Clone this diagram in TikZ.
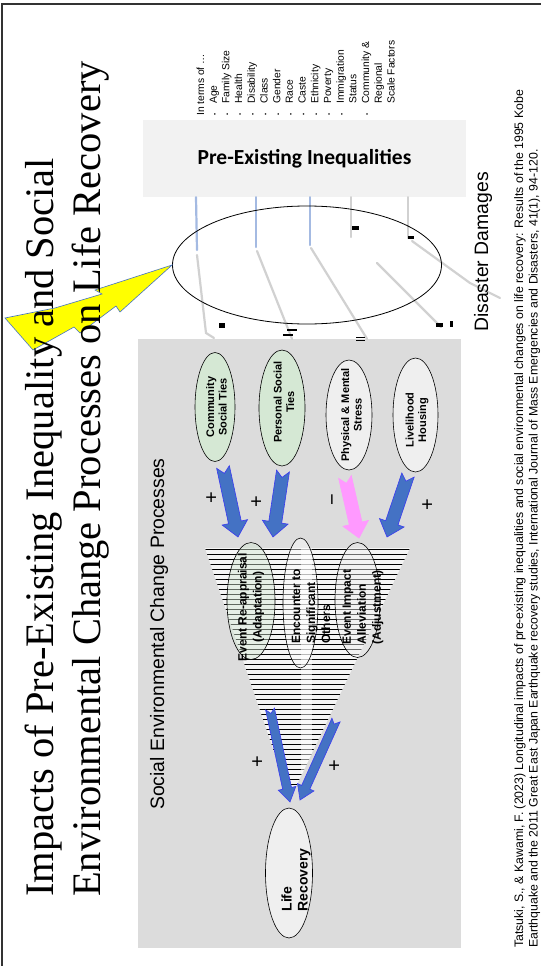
\documentclass[tikz,border=0pt]{standalone}
\usepackage{fontspec}
\setmainfont{Liberation Serif}
\setsansfont{Liberation Sans}
\newfontfamily\headfont{Carlito}
\usetikzlibrary{shapes.geometric,positioning,calc}

\definecolor{boxgray}{HTML}{F2F2F2}
\definecolor{procgray}{HTML}{DCDCDC}
\definecolor{tiegreen}{HTML}{D5E8D4}
\definecolor{ovalgray}{HTML}{EFEFEF}
\definecolor{arrowblue}{HTML}{4472C4}
\definecolor{edgeblue}{HTML}{3A3AF0}
\definecolor{stresspink}{HTML}{FF99FF}
\definecolor{boltyellow}{HTML}{FFFF00}
\definecolor{traceblue}{HTML}{8EA9DB}

\newcommand{\itemdot}{{\fontsize{6}{6}\selectfont\textbullet}}
% wide block arrow with notched tail: style, from, to, half shaft, half head, head length
\newcommand{\fatarrow}[6]{%
  \coordinate (fa-base) at ($(#3)!#6!(#2)$);
  \filldraw[#1] ($(#2)!#4!90:(#3)$) -- ($(fa-base)!#4!90:(#3)$) -- ($(fa-base)!#5!90:(#3)$) -- (#3)
    -- ($(fa-base)!#5!-90:(#3)$) -- ($(fa-base)!#4!-90:(#3)$) -- ($(#2)!#4!-90:(#3)$) -- ($(#2)!#4!(#3)$) -- cycle;}

\begin{document}
\begin{tikzpicture}[x=1pt, y=-1pt,
  frame/.style={line width=1.3pt, draw=black!80},
  title/.style={rotate=90, inner sep=0pt, font=\rmfamily\fontsize{40.5}{47}\selectfont},
  sidehead/.style={rotate=90, inner sep=0pt, font=\sffamily\fontsize{19.4}{22}\selectfont},
  cite/.style={rotate=90, inner sep=0pt, font=\sffamily\fontsize{12.3}{14}\selectfont},
  oval/.style={draw, ellipse, inner sep=0pt, line width=0.6pt},
  vtext/.style={rotate=90, inner sep=0pt, text opacity=1, align=center, font=\sffamily\bfseries\fontsize{11}{12.5}\selectfont},
  btext/.style={vtext, font=\sffamily\bfseries\fontsize{12}{15}\selectfont},
  sign/.style={rotate=90, inner sep=0pt, font=\sffamily\fontsize{20}{20}\selectfont},
  trace/.style={line width=2.2pt, line cap=round, draw=gray!45, opacity=0.8},
  bluetrace/.style={trace, draw=traceblue},
  blot/.style={fill=black},
  stripe/.style={line width=1pt, draw=black},
  bluearrow/.style={fill=arrowblue, draw=edgeblue, line width=0.6pt},
  pinkarrow/.style={fill=stresspink, draw=stresspink, line width=0.6pt}
]
\useasboundingbox (0,0) rectangle (541,966);
\fill[white] (0,0) rectangle (541,966);

% slide frame
\draw[frame] (2,966) -- (2,4) -- (541,4);

% inequalities and process areas
\node[fill=boxgray, minimum width=323pt, minimum height=77pt, inner sep=0pt,
  font=\headfont\bfseries\fontsize{21.5}{24}\selectfont] (ineq) at (304.5,158.5) {Pre-Existing Inequalities};
\node[fill=procgray, minimum width=323pt, minimum height=609pt, inner sep=0pt] (proc) at (299.5,643.5) {};

% traces from the inequalities
\draw[bluetrace] (196,0 |- ineq.south) -- (197,250);
\draw[trace] (197,255) -- (206,333) -- (214,338);
\draw[bluetrace] (256,0 |- ineq.south) -- (256,247);
\draw[trace] (257,251) -- (292,0 |- proc.north);
\draw[bluetrace] (310,0 |- ineq.south) -- (310,245);
\draw[trace] (311,248) -- (367,0 |- proc.north);
\draw[trace] (351,0 |- ineq.south) -- (351,237);
\draw[trace] (377,263) -- (441,327);
\draw[trace] (408,0 |- ineq.south) -- (408,238);
\draw[trace] (412,241) -- (470,283) -- (500,298);
\fill[blot] (219,323) rectangle (225,328);
\fill[blot] (352,226) rectangle (359,230);
\fill[blot] (408,236) rectangle (414,239);
\fill[blot] (436,323) rectangle (443,327);
\fill[blot] (450,321) rectangle (453,327);
\fill[blot] (283,334) rectangle (293,335.5);
\fill[blot] (287,329) rectangle (297,330.5);
\fill[blot] (356,337) rectangle (365,338.2);
\fill[blot] (356,340) rectangle (365,341.2);

% disaster damage zone and bolt
\node[draw, ellipse, minimum width=269pt, minimum height=118pt, inner sep=0pt, line width=0.8pt] (dmgzone) at (307,265) {};
\filldraw[fill=boltyellow, draw=arrowblue, line width=0.6pt] (dmgzone.west) -- (95,290) -- (102,294) -- (55,308)
  -- (5,318) -- (33,350) -- (74,327) -- (80,333) -- (116,306) -- (120,312) -- cycle;

% titles and side texts
\node[title, anchor=base west] (title1) at (53,897) {Impacts of Pre-Existing Inequality and Social};
\node[title, anchor=base west] (title2) at (100,897) {Environmental Change Processes on Life Recovery};
\node[rotate=90, anchor=north west, inner sep=0pt, font=\sffamily\fontsize{10.3}{12.7}\selectfont] (factors) at (195,116) {%
  \begin{tabular}{@{}l@{\hspace{10pt}}l@{}}
  \multicolumn{2}{@{}l@{}}{In terms of …}\\
  \itemdot & Age\\
  \itemdot & Family Size\\
  \itemdot & Health\\
  \itemdot & Disability\\
  \itemdot & Class\\
  \itemdot & Gender\\
  \itemdot & Race\\
  \itemdot & Caste\\
  \itemdot & Ethnicity\\
  \itemdot & Poverty\\
  \itemdot & Immigration\\
           & Status\\
  \itemdot & Community \&\\
           & Regional\\
           & Scale Factors
  \end{tabular}};
\node[sidehead, anchor=base west] (damages) at (488,332) {Disaster Damages};
\node[sidehead, anchor=base west] (proclabel) at (164,810) {Social Environmental Change Processes};
\node[cite, anchor=base west] (cite1) at (523,948) {Tatsuki, S., \& Kawami, F. (2023) Longitudinal impacts of pre-existing inequalities and social environmental changes on life recovery: Results of the 1995 Kobe};
\node[cite, anchor=base west] (cite2) at (537.5,948) {Earthquake and the 2011 Great East Japan Earthquake recovery studies, International Journal of Mass Emergencies and Disasters, 41(1), 94-120.};

% change processes
\node[oval, fill=tiegreen, minimum width=40pt, minimum height=109pt,
  label={[xshift=1.5pt, vtext]center:{Community\\Social Ties}}] (community) at (215,407) {};
\node[oval, fill=tiegreen, minimum width=46pt, minimum height=116pt,
  label={[xshift=2pt, yshift=6pt, vtext]center:{Personal Social\\Ties}}] (personal) at (282,408) {};
\node[oval, fill=ovalgray, minimum width=46pt, minimum height=110pt,
  label={[xshift=2.5pt, vtext]center:{Physical \& Mental\\Stress}}] (stress) at (349,415) {};
\node[oval, fill=ovalgray, minimum width=45pt, minimum height=114pt,
  label={[xshift=1.5pt, yshift=-5pt, vtext]center:{Livelihood\\Housing}}] (housing) at (415.5,415) {};

\coordinate (community-out) at (223,467);
\coordinate (personal-out) at (283,471);
\coordinate (stress-out) at (345,477);
\coordinate (housing-out) at (408,475);
\coordinate (reappraisal-in) at (238,537);
\coordinate (encounter-in) at (273,537);
\coordinate (stress-in) at (359,538);
\coordinate (alleviation-in) at (387,537);
\fatarrow{bluearrow}{community-out}{reappraisal-in}{6.5pt}{13pt}{15pt}
\fatarrow{bluearrow}{personal-out}{encounter-in}{6.5pt}{13pt}{15pt}
\fatarrow{pinkarrow}{stress-out}{stress-in}{6.5pt}{13pt}{15pt}
\fatarrow{bluearrow}{housing-out}{alleviation-in}{6.5pt}{13pt}{15pt}
\node[sign] (plus1) at (212,498) {+};
\node[sign] (plus2) at (257,502) {+};
\node[sign] (minus1) at (335,500) {−};
\node[sign] (plus3) at (428,505) {+};

% funnel of adaptation
\coordinate (funnel-l) at (205,548);
\coordinate (funnel-r) at (410,548);
\coordinate (funnel-tip) at (290,799);
\fill[gray!8] (funnel-l) -- (funnel-r) -- (funnel-tip) -- cycle;
\begin{scope}
  \clip (funnel-l) -- (funnel-r) -- (funnel-tip) -- cycle;
  \foreach \yy in {549,554,...,800}
    \draw[stripe] (200,\yy) -- (415,\yy);
  \fill[white, opacity=0.5] (301,548) rectangle (312,800);
\end{scope}

\node[oval, fill=tiegreen, fill opacity=0.45, minimum width=48pt, minimum height=117pt,
  label={[yshift=-6pt, btext]center:{Event Re-appraisal\\(Adaptation)}}] (reappraisal) at (251,601) {};
\node[oval, fill=white, fill opacity=0.45, minimum width=35pt, minimum height=130pt,
  label={[xshift=10.5pt, yshift=-3.5pt, btext, align=left]center:{Encounter to\\Significant\\Others}}] (encounter) at (300.5,603) {};
\node[oval, fill=ovalgray, fill opacity=0.45, minimum width=45pt, minimum height=115pt,
  label={[xshift=5.5pt, yshift=-7pt, btext, align=left]center:{Event Impact\\Alleviation\\(Adjustment)}}] (alleviation) at (357.5,600) {};

% life recovery
\node[oval, fill=ovalgray, minimum width=47pt, minimum height=130pt,
  label={[xshift=7pt, yshift=-7pt, vtext, align=left, font=\sffamily\bfseries\fontsize{14}{16}\selectfont]center:{Life\\Recovery}}] (recovery) at (289,873) {};
\coordinate (reappraisal-out) at (270,709);
\coordinate (alleviation-out) at (336,720);
\coordinate (recovery-in-l) at (290,802);
\coordinate (recovery-in-r) at (300,800);
\fatarrow{bluearrow}{reappraisal-out}{recovery-in-l}{4.5pt}{9pt}{14pt}
\fatarrow{bluearrow}{alleviation-out}{recovery-in-r}{4.5pt}{9pt}{14pt}
\node[sign] (plus4) at (258,762) {+};
\node[sign] (plus5) at (335,766) {+};
\end{tikzpicture}
\end{document}
